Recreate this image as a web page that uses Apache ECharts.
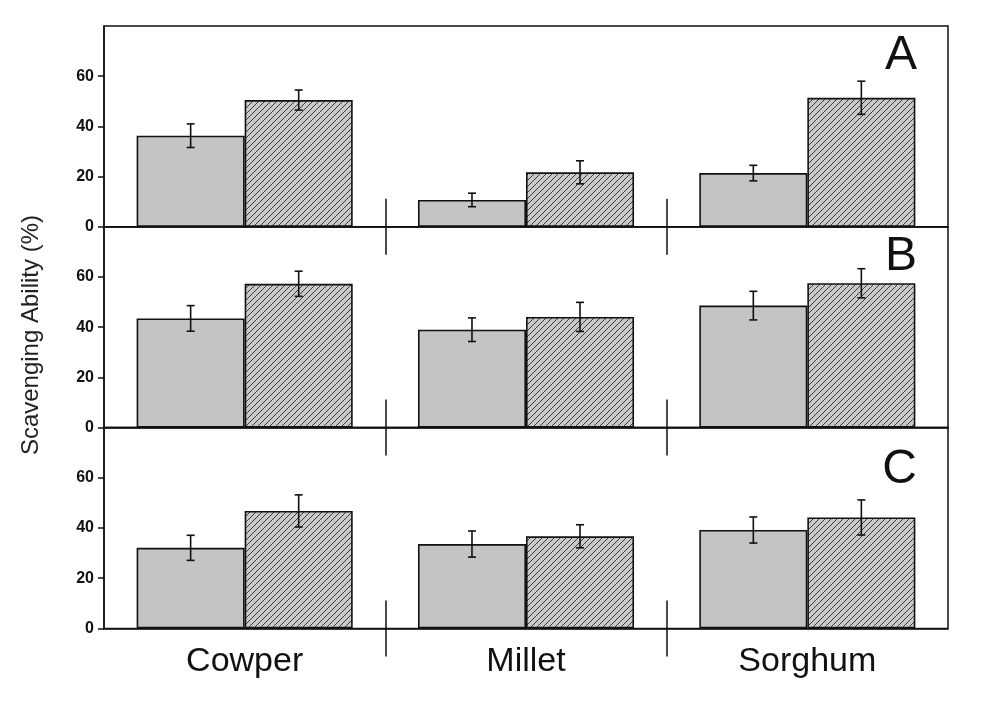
<!DOCTYPE html>
<html>
<head>
<meta charset="utf-8">
<script src="https://cdn.jsdelivr.net/npm/echarts@6/dist/echarts.min.js"></script>
<style>
html,body{margin:0;padding:0;background:#fff;}
#chart{width:993px;height:702px;}
</style>
</head>
<body>
<div id="chart"></div>
<script>
// ---- data ----
const categories = ['Cowper', 'Millet', 'Sorghum'];
const panelLabels = ['A', 'B', 'C'];
const yTicks = [0, 20, 40, 60];
const separatorTicks = [1, 2];

const grayA = [36.3, 10.7, 21.4];
const grayErrA = [4.7, 2.7, 3.1];
const hatchA = [50.5, 21.7, 51.4];
const hatchErrA = [4.0, 4.6, 6.6];

const grayB = [43.5, 39.0, 48.6];
const grayErrB = [5.1, 4.7, 5.7];
const hatchB = [57.3, 44.1, 57.5];
const hatchErrB = [5.0, 5.8, 5.8];

const grayC = [32.1, 33.6, 39.2];
const grayErrC = [5.0, 5.2, 5.2];
const hatchC = [46.8, 36.7, 44.2];
const hatchErrC = [6.4, 4.6, 7.0];

const yTitle = 'Scavenging Ability (%)';

// ---- build ----
const panels = [
  {gray: grayA, grayErr: grayErrA, hatch: hatchA, hatchErr: hatchErrA},
  {gray: grayB, grayErr: grayErrB, hatch: hatchB, hatchErr: hatchErrB},
  {gray: grayC, grayErr: grayErrC, hatch: hatchC, hatchErr: hatchErrC}
];

function makeHatch() {
  const s = 6;
  const c = document.createElement('canvas');
  c.width = s; c.height = s;
  const ctx = c.getContext('2d');
  ctx.fillStyle = '#c9c9c9';
  ctx.fillRect(0, 0, s, s);
  ctx.strokeStyle = '#3a3a3a';
  ctx.lineWidth = 1;
  ctx.beginPath();
  ctx.moveTo(0, s); ctx.lineTo(s, 0);
  ctx.moveTo(-1, 1); ctx.lineTo(1, -1);
  ctx.moveTo(s - 1, s + 1); ctx.lineTo(s + 1, s - 1);
  ctx.stroke();
  return c;
}
const hatchPattern = {image: makeHatch(), repeat: 'repeat'};

const ink = '#111';
const font = 'Liberation Sans, Arial, sans-serif';
const gridTops = [26, 226.8, 427.6];
const gridH = 200.8;
const barW = 0.384; // fraction of category band

const grids = [], xAxes = [], yAxes = [], series = [], titles = [];

function errRender(offsetFrac) {
  return function (params, api) {
    const idx = api.value(0), v = api.value(1), e = api.value(2);
    const band = api.size([1, 0])[0];
    const x = api.coord([idx, v])[0] + offsetFrac * band;
    const yt = api.coord([idx, v + e])[1];
    const yb = api.coord([idx, v - e])[1];
    const cap = 4;
    const st = {stroke: ink, lineWidth: 1.6};
    return {type: 'group', children: [
      {type: 'line', shape: {x1: x, y1: yt, x2: x, y2: yb}, style: st},
      {type: 'line', shape: {x1: x - cap, y1: yt, x2: x + cap, y2: yt}, style: st},
      {type: 'line', shape: {x1: x - cap, y1: yb, x2: x + cap, y2: yb}, style: st}
    ]};
  };
}

panels.forEach(function (p, i) {
  grids.push({left: 104, right: 45, top: gridTops[i], height: gridH,
    show: true, borderColor: ink, borderWidth: 1.5, backgroundColor: 'transparent'});
  const isLast = i === panels.length - 1;
  // category axis
  xAxes.push({type: 'category', gridIndex: i, data: categories, position: 'bottom',
    axisLine: {show: true, onZero: false, lineStyle: {color: ink, width: 1.5}},
    axisTick: {show: false},
    axisLabel: {show: isLast, margin: 16, fontSize: 34, color: ink, fontFamily: font},
    splitLine: {show: false}});
  // separators: upward part and downward part
  [true, false].forEach(function (inside) {
    xAxes.push({type: 'value', gridIndex: i, min: 0, max: categories.length, position: 'bottom',
      axisLine: {show: false, onZero: false},
      axisLabel: {show: false},
      splitLine: {show: false},
      axisTick: {show: true, inside: inside, length: 28, customValues: separatorTicks,
        lineStyle: {color: ink, width: 1.5}}});
  });
  yAxes.push({type: 'value', gridIndex: i, min: 0, max: 80, interval: 20,
    axisLine: {show: true, lineStyle: {color: ink, width: 1.5}},
    axisTick: {show: true, inside: false, length: 6, customValues: yTicks, lineStyle: {color: ink, width: 1.5}},
    axisLabel: {customValues: yTicks, margin: 10, fontSize: 16, fontWeight: 'bold', color: ink, fontFamily: font},
    splitLine: {show: false}});

  const xi = i * 3;
  series.push({type: 'bar', xAxisIndex: xi, yAxisIndex: i, data: p.gray,
    barWidth: (barW * 100) + '%', barGap: '0%',
    itemStyle: {color: '#c4c4c4', borderColor: ink, borderWidth: 1.6}, silent: true});
  series.push({type: 'bar', xAxisIndex: xi, yAxisIndex: i, data: p.hatch,
    barWidth: (barW * 100) + '%', barGap: '0%',
    itemStyle: {color: hatchPattern, borderColor: ink, borderWidth: 1.6}, silent: true});
  series.push({type: 'custom', xAxisIndex: xi, yAxisIndex: i, z: 5, silent: true,
    renderItem: errRender(-barW / 2),
    data: p.gray.map(function (v, k) { return [k, v, p.grayErr[k]]; })});
  series.push({type: 'custom', xAxisIndex: xi, yAxisIndex: i, z: 5, silent: true,
    renderItem: errRender(barW / 2),
    data: p.hatch.map(function (v, k) { return [k, v, p.hatchErr[k]]; })});
});

const titleTops = [32, 233, 446];
panelLabels.forEach(function (t, i) {
  titles.push({text: t, right: 76, top: titleTops[i], padding: 0,
    textStyle: {fontSize: 48, fontWeight: 'normal', color: ink, fontFamily: font}});
});

const chart = echarts.init(document.getElementById('chart'), null, {renderer: 'canvas'});
chart.setOption({
  backgroundColor: '#ffffff',
  animation: false,
  title: titles,
  grid: grids,
  xAxis: xAxes,
  yAxis: yAxes,
  series: series,
  graphic: [{
    type: 'text', left: 19, top: 215,
    rotation: Math.PI / 2,
    style: {text: yTitle, fontSize: 24, fill: '#222', fontFamily: font}
  }]
});
</script>
</body>
</html>
